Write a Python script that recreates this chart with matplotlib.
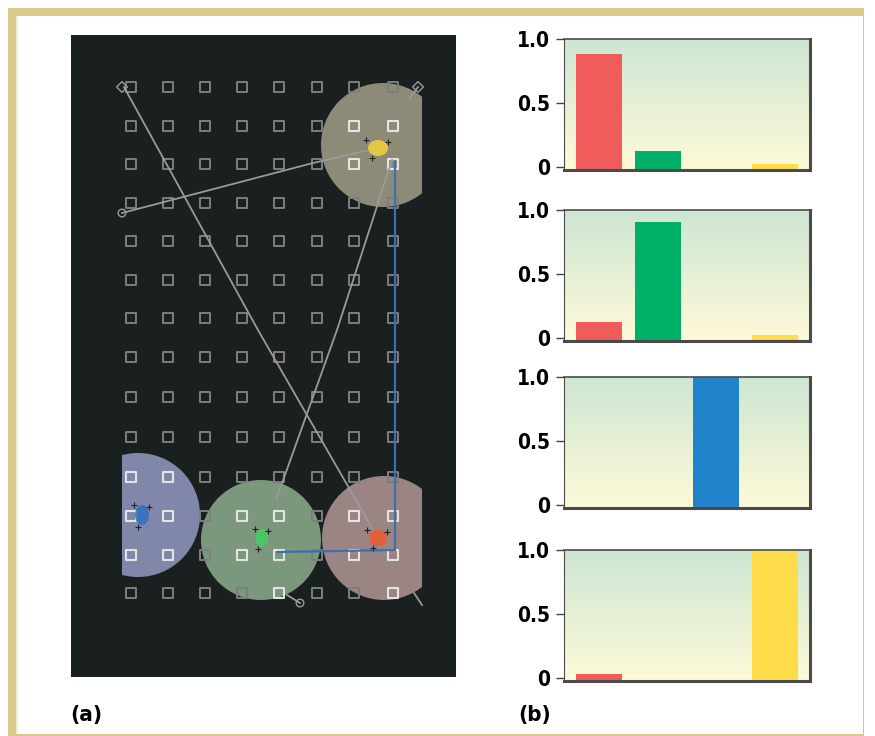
#!/usr/bin/env python3

"""Panel (a): tracking scene with regions; panel (b): per-region class probabilities."""

import matplotlib.pyplot as plt
from matplotlib.patches import Circle, Rectangle, Ellipse
import numpy as np

# ---- data: panel (a) scene, in image pixel units ----
grid_x = [131, 168, 205, 242, 279, 317, 354, 393]
grid_y = [87, 126, 164, 203, 241, 280, 318, 357, 397, 437, 477, 516, 555, 593]

region_x = [383, 138, 261, 384]
region_y = [145, 515, 540, 538]
region_r = [62, 62, 60, 62]
region_colors = ["#8d8b77", "#8187a8", "#7b987c", "#9b8584"]

blob_x = [378, 142, 262, 378]
blob_y = [148, 515, 538, 538]
blob_w = [20, 14, 12, 18]
blob_h = [16, 20, 18, 16]
blob_colors = ["#f2d23a", "#2f6fc0", "#40d060", "#f0582c"]

gray_paths = [
    ([124, 258, 372], [87, 330, 528]),
    ([122, 313, 378], [213, 163, 148]),
    ([392, 337, 276], [160, 330, 500]),
    ([287, 300], [595, 603]),
    ([414, 422], [593, 605]),
    ([418, 410], [87, 98]),
]
blue_path = ([395, 395, 278], [162, 550, 552])

# ---- data: panel (b) bar charts ----
classes = ["red", "green", "blue", "yellow"]
class_colors = ["#f05c5c", "#00b068", "#2082c8", "#ffdc4a"]
probs = [
    [0.88, 0.125, 0.0, 0.025],
    [0.12, 0.91, 0.0, 0.02],
    [0.0, 0.0, 1.0, 0.0],
    [0.03, 0.0, 0.0, 1.0],
]
yticks = [0, 0.5, 1.0]
yticklabels = ["0", "0.5", "1.0"]

W, H = 875, 736
fig = plt.figure(figsize=(W / 100, H / 100), dpi=100)
fig.patch.set_facecolor("white")

# beige frame
frame = fig.add_axes([0, 0, 1, 1], zorder=-5)
frame.set_xlim(0, W)
frame.set_ylim(H, 0)
frame.axis("off")
frame.add_patch(Rectangle((8, 8), 864 - 8, 760, facecolor="#d9c98a", edgecolor="none"))
frame.add_patch(Rectangle((16, 16), 863 - 16, 718, facecolor="white", edgecolor="none"))
frame.add_patch(Rectangle((16, 16), 2, 718, facecolor="#f3ecd0", edgecolor="none"))

# ---- panel (a) ----
axa = fig.add_axes([71 / W, 1 - 677 / H, 385 / W, 642 / H])
axa.set_facecolor("#1a1f1f")
axa.set_xlim(71, 456)
axa.set_ylim(677, 35)
axa.set_xticks([])
axa.set_yticks([])
for s in axa.spines.values():
    s.set_visible(False)

clip = Rectangle((122, 35), 300, 642, transform=axa.transData, facecolor="none", edgecolor="none")
axa.add_patch(clip)
for cx, cy, r, c in zip(region_x, region_y, region_r, region_colors):
    circ = Circle((cx, cy), r, facecolor=c, edgecolor="none", zorder=1)
    axa.add_patch(circ)
    circ.set_clip_path(clip)

gx, gy = np.meshgrid(grid_x, grid_y)
gx, gy = gx.ravel(), gy.ravel()
inside = np.zeros(gx.shape, dtype=bool)
for cx, cy, r in zip(region_x, region_y, region_r):
    inside |= (gx - cx) ** 2 + (gy - cy) ** 2 < (r - 4) ** 2
inside &= gx > 122
axa.scatter(gx[~inside], gy[~inside], s=48, marker="s", facecolor="none",
            edgecolor="#7e7e7e", linewidth=1.4, zorder=2)
axa.scatter(gx[inside], gy[inside], s=48, marker="s", facecolor="none",
            edgecolor="#e4e4e4", linewidth=1.5, zorder=2)

for px, py in gray_paths:
    axa.plot(px, py, color="#9a9a9a", lw=1.3, zorder=3)
axa.plot(blue_path[0], blue_path[1], color="#3a70b0", lw=1.6, zorder=3)
axa.scatter([122, 418], [87, 87], marker="D", s=30, facecolor="none", edgecolor="#9a9a9a", lw=1.0, zorder=4)
axa.scatter([122, 300], [213, 603], marker="o", s=30, facecolor="none", edgecolor="#9a9a9a", lw=1.0, zorder=4)

for bx, by, bw, bh, c in zip(blob_x, blob_y, blob_w, blob_h, blob_colors):
    axa.add_patch(Ellipse((bx, by), bw, bh, facecolor=c, alpha=0.85, edgecolor="none", zorder=5))
    axa.scatter([bx - bw * 0.6, bx + bw * 0.5, bx - bw * 0.3],
                [by - bh * 0.5, by - bh * 0.4, by + bh * 0.6],
                marker="+", s=14, color="#202020", lw=0.8, zorder=5)

# ---- panel (b) ----
font = ["Liberation Sans Narrow", "DejaVu Sans"]
chart_tops = [39, 210, 377, 550]
chart_h = 131
ybase = -0.025
x = np.arange(len(classes))
grad = np.linspace(0, 1, 256)
top_c = np.array([0xcd, 0xe6, 0xd3]) / 255
bot_c = np.array([0xfe, 0xfa, 0xd8]) / 255
grad_img = (top_c[None, :] * (1 - grad[:, None]) + bot_c[None, :] * grad[:, None]).reshape(256, 1, 3)

for top, vals in zip(chart_tops, probs):
    ax = fig.add_axes([564 / W, 1 - (top + chart_h) / H, 246 / W, chart_h / H])
    ax.imshow(grad_img, extent=[-0.6, 3.6, ybase, 1.0], aspect="auto", zorder=0, origin="upper")
    vals = np.array(vals)
    heights = np.where(vals > 0, vals - ybase, 0)
    ax.bar(x, heights, width=0.78, bottom=ybase, color=class_colors, zorder=2)
    ax.set_xlim(-0.6, 3.6)
    ax.set_ylim(ybase, 1.0)
    ax.set_xticks([])
    ax.set_yticks(yticks)
    ax.set_yticklabels(yticklabels, family=font, fontweight="bold", fontsize=15, fontstretch="condensed")
    ax.tick_params(axis="y", length=6, width=1, color="#444444", pad=4)
    ax.spines["left"].set_linewidth(0.8)
    ax.spines["top"].set_linewidth(1.2)
    ax.spines["right"].set_linewidth(2.2)
    ax.spines["bottom"].set_linewidth(2.2)
    for s in ax.spines.values():
        s.set_color("#4a4a4a")

fig.text(70 / W, 1 - 715 / H, "(a)", family=font, fontweight="bold", fontsize=16,
         fontstretch="condensed", va="center", ha="left")
fig.text(518 / W, 1 - 715 / H, "(b)", family=font, fontweight="bold", fontsize=16,
         fontstretch="condensed", va="center", ha="left")

fig.savefig("out.png", dpi=100)
